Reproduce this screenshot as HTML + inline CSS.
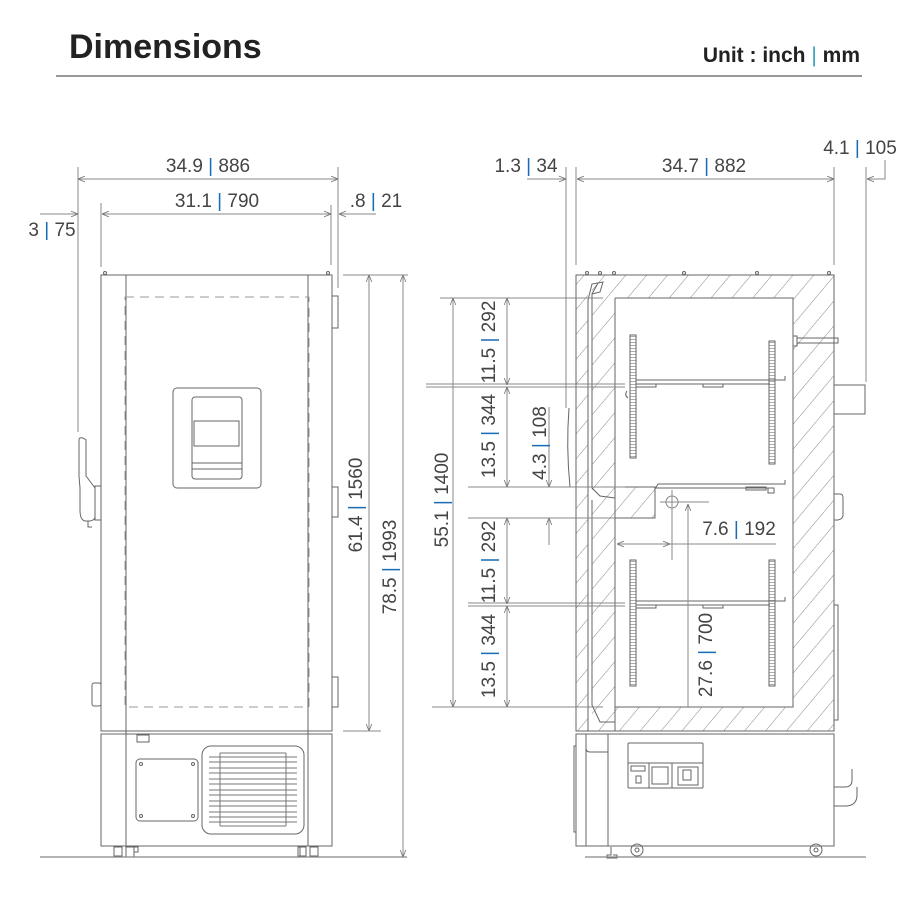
<!DOCTYPE html>
<html><head><meta charset="utf-8"><style>
html,body{margin:0;padding:0;background:#fff;width:920px;height:920px;overflow:hidden}
svg{display:block}
</style></head><body>
<svg width="920" height="920" viewBox="0 0 920 920" xmlns="http://www.w3.org/2000/svg" font-family="Liberation Sans, sans-serif">
<defs>
<pattern id="h" width="16" height="16" patternUnits="userSpaceOnUse" patternTransform="rotate(40)">
<line x1="0" y1="0" x2="0" y2="16" stroke="#888" stroke-width="1"/>
</pattern>
<pattern id="rk" width="6" height="3" patternUnits="userSpaceOnUse">
<line x1="0" y1="0.5" x2="6" y2="0.5" stroke="#999" stroke-width="0.8"/>
</pattern>
<marker id="a" viewBox="0 0 10 10" refX="10" refY="5" markerWidth="7" markerHeight="7" orient="auto-start-reverse" markerUnits="userSpaceOnUse">
<path d="M0,1 L10,5 L0,9" fill="none" stroke="#777" stroke-width="1.2"/>
</marker>
</defs>

<!-- header -->
<text x="69" y="58" font-size="34" font-weight="bold" fill="#222">Dimensions</text>
<text x="860" y="62" font-size="21" font-weight="bold" fill="#222" text-anchor="end">Unit : inch <tspan fill="#3aa0c0" font-weight="normal">|</tspan> mm</text>
<line x1="56" y1="76" x2="862" y2="76" stroke="#777" stroke-width="1.5"/>

<g fill="none" stroke="#666" stroke-width="1">
<!-- FRONT VIEW -->
<rect x="101" y="275" width="231" height="456"/>
<line x1="126" y1="275" x2="126" y2="846"/>
<line x1="308" y1="275" x2="308" y2="846"/>
<rect x="125" y="297" width="184" height="410" stroke="#999" stroke-dasharray="9,6"/>
<rect x="101" y="734" width="231" height="112"/>
<rect x="173" y="388" width="88" height="100" rx="4"/>
<rect x="192" y="397" width="50" height="82" rx="3"/>
<rect x="194" y="421" width="45" height="25"/>
<line x1="192" y1="463" x2="242" y2="463"/>
<line x1="192" y1="469" x2="242" y2="469"/>
<circle cx="105" cy="273" r="1.5"/><circle cx="328" cy="273" r="1.5"/>
<!-- handle -->
<path d="M79,440 Q79,437 83,438 L86,440 L86,476 L95,488 L95,517 Q95,520 90,521 L85,521 Q80,520 80,510 L80,488 L79,476 Z"/>
<rect x="95" y="486" width="6" height="34"/>
<path d="M88,521 L88,527 L92,527"/>
<!-- hinges -->
<rect x="332" y="296" width="6" height="32"/>
<rect x="332" y="487" width="6" height="30"/>
<rect x="332" y="677" width="6" height="30"/>
<rect x="92" y="683" width="9" height="23" rx="2"/>
<!-- lower front -->
<rect x="137" y="735" width="12" height="7"/>
<rect x="136" y="759" width="62" height="62" rx="4"/>
<circle cx="141" cy="764" r="1.5"/><circle cx="193" cy="764" r="1.5"/><circle cx="141" cy="816" r="1.5"/><circle cx="193" cy="816" r="1.5"/>
<rect x="202" y="746" width="102" height="88" rx="9"/>
<g stroke="#777">
<line x1="220" y1="753" x2="286" y2="753"/><line x1="220" y1="826" x2="286" y2="826"/>
<line x1="220" y1="753" x2="220" y2="826"/><line x1="286" y1="753" x2="286" y2="826"/>
<line x1="209" y1="757" x2="297" y2="757"/><line x1="209" y1="762" x2="297" y2="762"/>
<line x1="209" y1="768" x2="297" y2="768"/><line x1="209" y1="773" x2="297" y2="773"/>
<line x1="209" y1="779" x2="297" y2="779"/><line x1="209" y1="784" x2="297" y2="784"/>
<line x1="209" y1="790" x2="297" y2="790"/><line x1="209" y1="795" x2="297" y2="795"/>
<line x1="209" y1="801" x2="297" y2="801"/><line x1="209" y1="806" x2="297" y2="806"/>
<line x1="209" y1="812" x2="297" y2="812"/><line x1="209" y1="817" x2="297" y2="817"/>
<line x1="209" y1="822" x2="297" y2="822"/>
</g>
<rect x="114" y="847" width="8" height="9"/><rect x="126" y="847" width="8" height="10"/><rect x="134" y="847" width="4" height="5"/>
<rect x="298" y="847" width="8" height="9"/><rect x="310" y="847" width="8" height="9"/><rect x="300" y="847" width="6" height="10"/>
<line x1="40" y1="857" x2="407" y2="857" stroke="#888" stroke-width="1.3"/>

<!-- front dims -->
<g stroke="#888">
<line x1="78" y1="167" x2="78" y2="432"/>
<line x1="101" y1="203" x2="101" y2="267"/>
<line x1="338" y1="167" x2="338" y2="288"/>
<line x1="331" y1="205" x2="331" y2="265"/>
<line x1="78" y1="179" x2="338" y2="179" marker-start="url(#a)" marker-end="url(#a)"/>
<line x1="102" y1="214" x2="331" y2="214" marker-start="url(#a)" marker-end="url(#a)"/>
<line x1="40" y1="214" x2="78" y2="214" marker-end="url(#a)"/>
<line x1="376" y1="214" x2="339" y2="214" marker-end="url(#a)"/>
<line x1="343" y1="275" x2="408" y2="275"/>
<line x1="343" y1="731" x2="381" y2="731"/>
<line x1="369" y1="275" x2="369" y2="731" marker-start="url(#a)" marker-end="url(#a)"/>
<line x1="403" y1="275" x2="403" y2="857" marker-start="url(#a)" marker-end="url(#a)"/>
</g>

<!-- SIDE VIEW -->
<path fill="url(#h)" stroke="none" fill-rule="evenodd" d="M576,275 H834 V731 H576 Z M615,298 H793 V707 H615 Z"/>
<rect x="615" y="487" width="40" height="31" fill="url(#h)" stroke="none"/>
<rect x="588" y="284" width="4" height="440" fill="#fff" stroke="none"/>
<path d="M576,275 H834 V731 H576 Z"/>
<path d="M615,298 H793 V707 H615"/>
<line x1="615" y1="298" x2="615" y2="731"/>
<path d="M588,731 V300 L592,284 L603,282 L600,292 L592,294 V488 L600,496 L615,498"/>
<path d="M592,294 L598,283 M592,500 V705 L600,722 L615,722"/>
<path d="M615,487 H655 V518 H615"/>
<path d="M569,408 Q566,447 570,487 L576,487"/>
<circle cx="587" cy="273" r="1.5"/><circle cx="600" cy="273" r="1.5"/><circle cx="614" cy="273" r="1.5"/><circle cx="684" cy="273" r="1.5"/><circle cx="757" cy="273" r="1.5"/><circle cx="829" cy="273" r="1.5"/>
<!-- racks -->
<rect x="630" y="335" width="6" height="123" fill="url(#rk)"/>
<rect x="769" y="341" width="6" height="123" fill="url(#rk)"/>
<rect x="630" y="560" width="6" height="126" fill="url(#rk)"/>
<rect x="769" y="560" width="6" height="126" fill="url(#rk)"/>
<path d="M636,380 H785 V376 M636,384 H770"/>
<rect x="636" y="384" width="20" height="3"/><rect x="703" y="384" width="20" height="3"/>
<path d="M655,489 L658,484 H785 V480 M655,488 H770"/>
<rect x="746" y="487" width="20" height="3"/><rect x="768" y="488" width="6" height="5"/>
<path d="M636,601 H785 V597 M636,605 H770"/>
<rect x="636" y="605" width="20" height="3"/><rect x="703" y="605" width="20" height="3"/>
<path d="M627,391 Q624,395 628,398"/>
<path d="M793,336 H797 V346 H793 M797,338 H838 V343 H797"/>
<!-- right side items -->
<rect x="834" y="385" width="31" height="29"/>
<path d="M834,494 H840 Q843,494 843,498 V515 Q843,519 838,520 H834"/>
<path d="M834,605 H838 V720 H834"/>
<!-- base -->
<rect x="576" y="734" width="258" height="112"/>
<line x1="608" y1="734" x2="608" y2="846"/>
<line x1="586" y1="734" x2="586" y2="846"/>
<path d="M586,734 V748 Q586,752 590,752 H608"/>
<path d="M576,746 H574 V832 H576"/>
<rect x="628" y="743" width="75" height="45" rx="1"/>
<line x1="628" y1="763" x2="703" y2="763"/>
<line x1="649" y1="763" x2="649" y2="788"/><line x1="672" y1="763" x2="672" y2="788"/>
<rect x="631" y="766" width="14" height="5"/><rect x="636" y="776" width="5" height="7"/>
<rect x="652" y="767" width="16" height="17"/>
<rect x="678" y="767" width="20" height="18"/><rect x="683" y="770" width="8" height="10"/>
<path d="M834,787 H845 Q852,787 852,780 V769 M834,806 H845 Q857,806 857,795 V787"/>
<circle cx="637" cy="850" r="6"/><circle cx="637" cy="850" r="2"/>
<circle cx="816" cy="850" r="6"/><circle cx="816" cy="850" r="2"/>
<path d="M611,847 V855 H607 V858 H617 V855 H613"/>
<line x1="585" y1="857" x2="866" y2="857" stroke="#888" stroke-width="1.3"/>

<!-- side dims -->
<g stroke="#888">
<line x1="566" y1="167" x2="566" y2="408"/>
<line x1="576" y1="167" x2="576" y2="265"/>
<line x1="834" y1="167" x2="834" y2="265"/>
<line x1="866" y1="167" x2="866" y2="382"/>
<line x1="527" y1="179" x2="566" y2="179" marker-end="url(#a)"/>
<line x1="577" y1="179" x2="834" y2="179" marker-start="url(#a)" marker-end="url(#a)"/>
<path d="M885,160 V179 H867" marker-end="url(#a)"/>
<line x1="440" y1="298" x2="603" y2="298"/>
<line x1="426" y1="384" x2="625" y2="384"/>
<line x1="426" y1="387" x2="625" y2="387"/>
<line x1="468" y1="487" x2="625" y2="487"/>
<line x1="468" y1="518" x2="615" y2="518"/>
<line x1="468" y1="603" x2="625" y2="603"/>
<line x1="468" y1="606" x2="625" y2="606"/>
<line x1="432" y1="707" x2="603" y2="707"/>
<line x1="453" y1="298" x2="453" y2="707" marker-start="url(#a)" marker-end="url(#a)"/>
<line x1="507" y1="298" x2="507" y2="385" marker-start="url(#a)" marker-end="url(#a)"/>
<line x1="507" y1="387" x2="507" y2="487" marker-start="url(#a)" marker-end="url(#a)"/>
<line x1="507" y1="518" x2="507" y2="604" marker-start="url(#a)" marker-end="url(#a)"/>
<line x1="507" y1="606" x2="507" y2="707" marker-start="url(#a)" marker-end="url(#a)"/>
<line x1="549" y1="407" x2="549" y2="487" marker-end="url(#a)"/>
<line x1="549" y1="545" x2="549" y2="518" marker-end="url(#a)"/>
<circle cx="672" cy="502" r="6"/>
<line x1="672" y1="490" x2="672" y2="560"/><line x1="660" y1="502" x2="709" y2="502"/>
<line x1="617" y1="544" x2="670" y2="544" marker-start="url(#a)" marker-end="url(#a)"/>
<line x1="670" y1="544" x2="776" y2="544"/>
<line x1="688" y1="707" x2="688" y2="504" marker-end="url(#a)"/>
</g>
</g>

<!-- labels -->
<g font-size="19" fill="#444">
<text x="208" y="172" text-anchor="middle">34.9 <tspan fill="#1a6bb5">|</tspan> 886</text>
<text x="217" y="207" text-anchor="middle">31.1 <tspan fill="#1a6bb5">|</tspan> 790</text>
<text x="376" y="207" text-anchor="middle">.8 <tspan fill="#1a6bb5">|</tspan> 21</text>
<text x="52" y="236" text-anchor="middle">3 <tspan fill="#1a6bb5">|</tspan> 75</text>
<text transform="translate(362,505) rotate(-90)" text-anchor="middle">61.4 <tspan fill="#1a6bb5">|</tspan> 1560</text>
<text transform="translate(396,567) rotate(-90)" text-anchor="middle">78.5 <tspan fill="#1a6bb5">|</tspan> 1993</text>
<text x="526" y="172" text-anchor="middle">1.3 <tspan fill="#1a6bb5">|</tspan> 34</text>
<text x="704" y="172" text-anchor="middle">34.7 <tspan fill="#1a6bb5">|</tspan> 882</text>
<text x="860" y="154" text-anchor="middle">4.1 <tspan fill="#1a6bb5">|</tspan> 105</text>
<text transform="translate(448,500) rotate(-90)" text-anchor="middle">55.1 <tspan fill="#1a6bb5">|</tspan> 1400</text>
<text transform="translate(495,342) rotate(-90)" text-anchor="middle">11.5 <tspan fill="#1a6bb5">|</tspan> 292</text>
<text transform="translate(495,436) rotate(-90)" text-anchor="middle">13.5 <tspan fill="#1a6bb5">|</tspan> 344</text>
<text transform="translate(546,443) rotate(-90)" text-anchor="middle">4.3 <tspan fill="#1a6bb5">|</tspan> 108</text>
<text transform="translate(495,562) rotate(-90)" text-anchor="middle">11.5 <tspan fill="#1a6bb5">|</tspan> 292</text>
<text transform="translate(495,656) rotate(-90)" text-anchor="middle">13.5 <tspan fill="#1a6bb5">|</tspan> 344</text>
<text transform="translate(712,655) rotate(-90)" text-anchor="middle">27.6 <tspan fill="#1a6bb5">|</tspan> 700</text>
<text x="739" y="535" text-anchor="middle">7.6 <tspan fill="#1a6bb5">|</tspan> 192</text>
</g>
</svg>
</body></html>
